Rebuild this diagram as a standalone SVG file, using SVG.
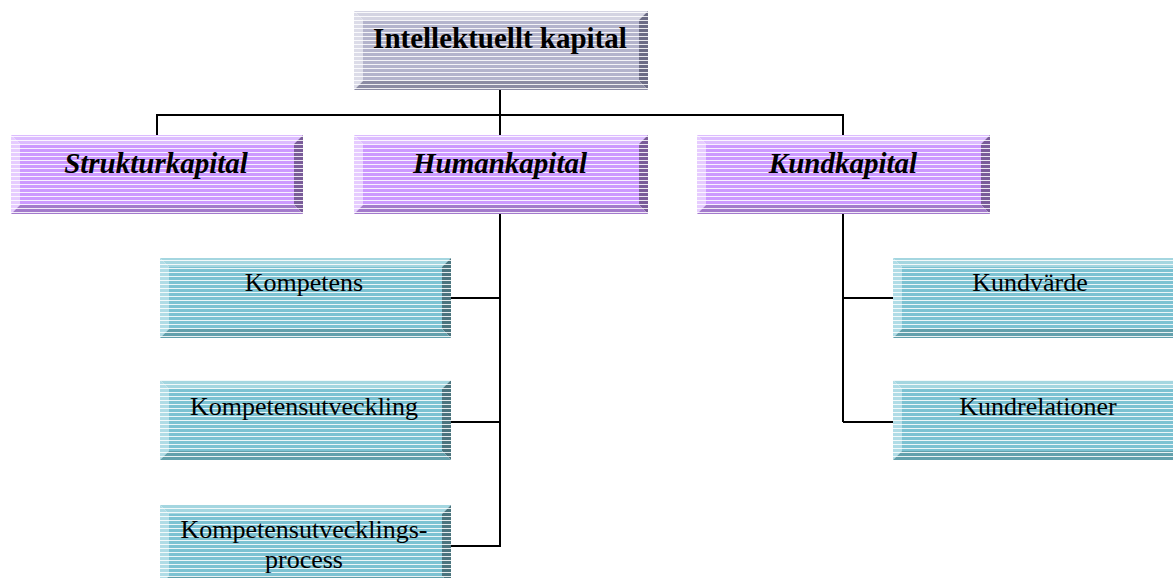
<svg xmlns="http://www.w3.org/2000/svg" width="1173" height="578" viewBox="0 0 1173 578">
<defs>
<pattern id="stripes" patternUnits="userSpaceOnUse" width="8" height="4">
<rect x="0" y="0" width="8" height="1" fill="#ffffff" fill-opacity="0.85"/>
</pattern>
<style>
.gray .f{fill:#b4b4cc}.gray .t{fill:#d4d4e2}.gray .l{fill:#dcdce8}.gray .r{fill:#6c6c86}.gray .b{fill:#8c8ca4}
.purp .f{fill:#cc99ff}.purp .t{fill:#dcbcff}.purp .l{fill:#e6ccff}.purp .r{fill:#7a5c9a}.purp .b{fill:#a37acc}
.teal .f{fill:#7cc2d2}.teal .t{fill:#a4d6e0}.teal .l{fill:#b0dce6}.teal .r{fill:#4a747e}.teal .b{fill:#62a0ac}
.st{fill:url(#stripes)}
.txt{font-family:"Liberation Serif","Times New Roman",serif;fill:#000;text-anchor:middle}
.h1{font-size:29px;font-weight:bold}
.h2{font-size:29px;font-weight:bold;font-style:italic}
.h3{font-size:26px}
.con{stroke:#000;stroke-width:2;fill:none}
</style>
</defs>
<rect width="1173" height="578" fill="#ffffff"/>

<g id="connectors">
<path class="con" d="M500 90V115M157 115H843M157 114V135M500 115V135M843 114V135"/>
<path class="con" d="M500 214V547M451 298H500M451 422H500M451 546H500"/>
<path class="con" d="M843 214V422M843 298H893M843 422H893"/>
</g>

<g id="intellektuellt" class="gray">
<rect class="f" x="363" y="20" width="276" height="61"/>
<polygon class="t" points="354,11 648,11 639,20 363,20"/>
<polygon class="l" points="354,11 363,20 363,81 354,90"/>
<polygon class="r" points="648,11 648,90 639,81 639,20"/>
<polygon class="b" points="354,90 363,81 639,81 648,90"/>
<rect class="st" x="354" y="11" width="294" height="79"/>
<text class="txt h1" x="500" y="48">Intellektuellt kapital</text>
</g>

<g id="struktur" class="purp">
<rect class="f" x="20" y="144" width="274" height="61"/>
<polygon class="t" points="11,135 303,135 294,144 20,144"/>
<polygon class="l" points="11,135 20,144 20,205 11,214"/>
<polygon class="r" points="303,135 303,214 294,205 294,144"/>
<polygon class="b" points="11,214 20,205 294,205 303,214"/>
<rect class="st" x="11" y="135" width="292" height="79"/>
<text class="txt h2" x="156" y="173">Strukturkapital</text>
</g>

<g id="human" class="purp">
<rect class="f" x="363" y="144" width="276" height="61"/>
<polygon class="t" points="354,135 648,135 639,144 363,144"/>
<polygon class="l" points="354,135 363,144 363,205 354,214"/>
<polygon class="r" points="648,135 648,214 639,205 639,144"/>
<polygon class="b" points="354,214 363,205 639,205 648,214"/>
<rect class="st" x="354" y="135" width="294" height="79"/>
<text class="txt h2" x="500" y="173">Humankapital</text>
</g>

<g id="kund" class="purp">
<rect class="f" x="706" y="144" width="275" height="61"/>
<polygon class="t" points="697,135 990,135 981,144 706,144"/>
<polygon class="l" points="697,135 706,144 706,205 697,214"/>
<polygon class="r" points="990,135 990,214 981,205 981,144"/>
<polygon class="b" points="697,214 706,205 981,205 990,214"/>
<rect class="st" x="697" y="135" width="293" height="79"/>
<text class="txt h2" x="843" y="173">Kundkapital</text>
</g>

<g id="kompetens" class="teal">
<rect class="f" x="169" y="267" width="273" height="62"/>
<polygon class="t" points="160,258 451,258 442,267 169,267"/>
<polygon class="l" points="160,258 169,267 169,329 160,338"/>
<polygon class="r" points="451,258 451,338 442,329 442,267"/>
<polygon class="b" points="160,338 169,329 442,329 451,338"/>
<rect class="st" x="160" y="258" width="291" height="80"/>
<text class="txt h3" x="304" y="291">Kompetens</text>
</g>

<g id="kompetensutveckling" class="teal">
<rect class="f" x="169" y="389" width="273" height="62"/>
<polygon class="t" points="160,380 451,380 442,389 169,389"/>
<polygon class="l" points="160,380 169,389 169,451 160,460"/>
<polygon class="r" points="451,380 451,460 442,451 442,389"/>
<polygon class="b" points="160,460 169,451 442,451 451,460"/>
<rect class="st" x="160" y="380" width="291" height="80"/>
<text class="txt h3" x="304" y="415">Kompetensutveckling</text>
</g>

<g id="process" class="teal">
<rect class="f" x="169" y="514" width="273" height="62"/>
<polygon class="t" points="160,505 451,505 442,514 169,514"/>
<polygon class="l" points="160,505 169,514 169,576 160,585"/>
<polygon class="r" points="451,505 451,585 442,576 442,514"/>
<polygon class="b" points="160,585 169,576 442,576 451,585"/>
<rect class="st" x="160" y="505" width="291" height="80"/>
<text class="txt h3" x="304" y="538">Kompetensutvecklings-</text>
<text class="txt h3" x="304" y="568">process</text>
</g>

<g id="kundvarde" class="teal">
<rect class="f" x="902" y="267" width="273" height="62"/>
<polygon class="t" points="893,258 1184,258 1175,267 902,267"/>
<polygon class="l" points="893,258 902,267 902,329 893,338"/>
<polygon class="r" points="1184,258 1184,338 1175,329 1175,267"/>
<polygon class="b" points="893,338 902,329 1175,329 1184,338"/>
<rect class="st" x="893" y="258" width="291" height="80"/>
<text class="txt h3" x="1030" y="291">Kundvärde</text>
</g>

<g id="kundrelationer" class="teal">
<rect class="f" x="902" y="389" width="273" height="62"/>
<polygon class="t" points="893,380 1184,380 1175,389 902,389"/>
<polygon class="l" points="893,380 902,389 902,451 893,460"/>
<polygon class="r" points="1184,380 1184,460 1175,451 1175,389"/>
<polygon class="b" points="893,460 902,451 1175,451 1184,460"/>
<rect class="st" x="893" y="380" width="291" height="80"/>
<text class="txt h3" x="1038" y="415">Kundrelationer</text>
</g>
</svg>
